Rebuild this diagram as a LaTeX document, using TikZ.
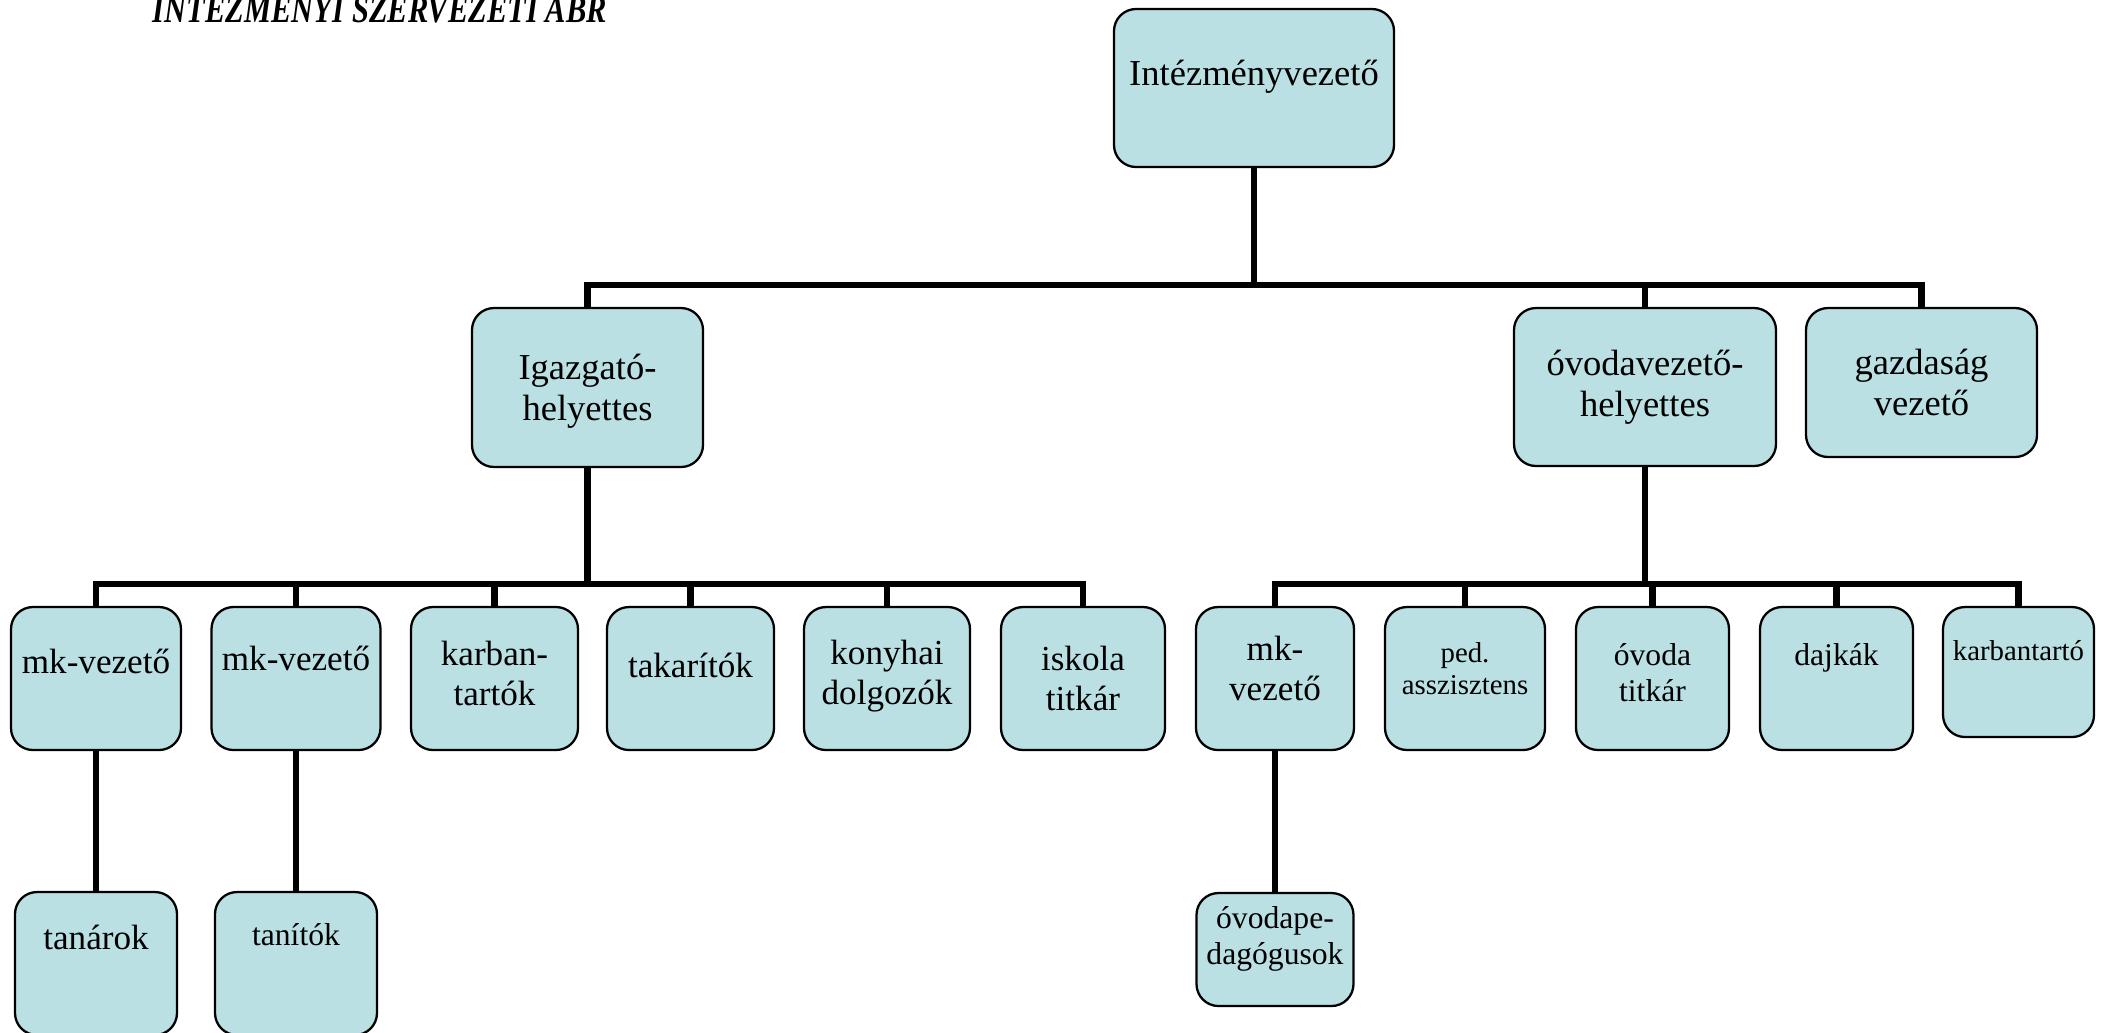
\documentclass[tikz,border=0pt]{standalone}
\usepackage{fontspec}
\setmainfont{Liberation Serif}

\definecolor{boxblue}{HTML}{BAE0E3}
\tikzset{
  orgbox/.style={draw, fill=boxblue, rounded corners=0.22cm, line width=0.65pt, align=center, inner sep=0pt},
  conn/.style={line width=1.8pt},
  bigtext/.style={font=\fontsize{10.4}{11.7}\selectfont},
  midtext/.style={font=\fontsize{10}{11.5}\selectfont},
  smalltext/.style={font=\fontsize{9}{10.5}\selectfont},
  tinytext/.style={font=\fontsize{8.2}{9.1}\selectfont},
}

\begin{document}
\begin{tikzpicture}
  \clip (0,0) rectangle (21.07,-10.32);

  \node[font=\fontsize{11}{12}\selectfont\bfseries\itshape\addfontfeature{FakeStretch=0.79},
        anchor=base west, inner sep=0pt] (title)
        at (1.52,-0.22) {INTEZMENYI SZERVEZETI ABR};

  \node[orgbox, bigtext, minimum width=2.8cm, minimum height=1.58cm, text depth=0.31cm] (ivez)
        at (12.54,-0.88) {Intézményvezető};

  \node[orgbox, bigtext, minimum width=2.31cm, minimum height=1.59cm, text depth=0pt] (igh)
        at (5.875,-3.875) {Igazgató-\\helyettes};
  \node[orgbox, bigtext, minimum width=2.62cm, minimum height=1.58cm] (ovh)
        at (16.45,-3.87) {óvodavezető-\\helyettes};
  \node[orgbox, bigtext, minimum width=2.31cm, minimum height=1.49cm] (gazd)
        at (19.215,-3.825) {gazdaság\\vezető};

  \node[orgbox, midtext, minimum width=1.70cm, minimum height=1.43cm, text depth=0.35cm] (mka)
        at (0.96,-6.785) {mk-vezető};
  \node[orgbox, midtext, minimum width=1.69cm, minimum height=1.43cm, text depth=0.41cm] (mkb)
        at (2.96,-6.785) {mk-vezető};
  \node[orgbox, midtext, minimum width=1.67cm, minimum height=1.43cm, text depth=0.1cm] (karb)
        at (4.945,-6.785) {karban-\\tartók};
  \node[orgbox, midtext, minimum width=1.67cm, minimum height=1.43cm, text depth=0.27cm] (tak)
        at (6.905,-6.785) {takarítók};
  \node[orgbox, midtext, minimum width=1.66cm, minimum height=1.43cm, text depth=0.13cm] (kony)
        at (8.87,-6.785) {konyhai\\dolgozók};
  \node[orgbox, midtext, minimum width=1.64cm, minimum height=1.43cm] (isk)
        at (10.83,-6.785) {iskola\\titkár};

  \node[orgbox, midtext, minimum width=1.58cm, minimum height=1.43cm, text depth=0.2cm] (mkc)
        at (12.75,-6.785) {mk-\\vezető};
  \node[orgbox, tinytext, minimum width=1.60cm, minimum height=1.43cm, text depth=0.2cm] (ped)
        at (14.65,-6.785) {ped.\\asszisztens};
  \node[orgbox, smalltext, minimum width=1.53cm, minimum height=1.43cm, text depth=0.12cm] (ovt)
        at (16.525,-6.785) {óvoda\\titkár};
  \node[orgbox, smalltext, minimum width=1.53cm, minimum height=1.43cm, text depth=0.49cm] (dajk)
        at (18.365,-6.785) {dajkák};
  \node[orgbox, tinytext, minimum width=1.51cm, minimum height=1.30cm, text depth=0.44cm] (karbt)
        at (20.185,-6.72) {karbantartó};

  \node[orgbox, midtext, minimum width=1.62cm, minimum height=1.43cm, text depth=0.53cm] (tan)
        at (0.96,-9.635) {tanárok};
  \node[orgbox, smalltext, minimum width=1.62cm, minimum height=1.43cm, text depth=0.59cm] (tani)
        at (2.96,-9.635) {tanítók};
  \node[orgbox, smalltext, minimum width=1.57cm, minimum height=1.13cm, text depth=0.28cm] (ovp)
        at (12.75,-9.495) {óvodape-\\dagógusok};

  \coordinate (bar1) at (0,-2.85);
  \coordinate (bar2) at (0,-5.84);

  \foreach \n in {igh,ovh,gazd}
    \draw[conn] (ivez.south) -- (ivez.south |- bar1) -| (\n.north);
  \foreach \n in {mka,mkb,karb,tak,kony,isk}
    \draw[conn] (igh.south) -- (igh.south |- bar2) -| (\n.north);
  \foreach \n in {mkc,ped,ovt,dajk,karbt}
    \draw[conn] (ovh.south) -- (ovh.south |- bar2) -| (\n.north);

  \draw[conn] (mka.south) -- (tan.north);
  \draw[conn] (mkb.south) -- (tani.north);
  \draw[conn] (mkc.south) -- (ovp.north);
\end{tikzpicture}
\end{document}
